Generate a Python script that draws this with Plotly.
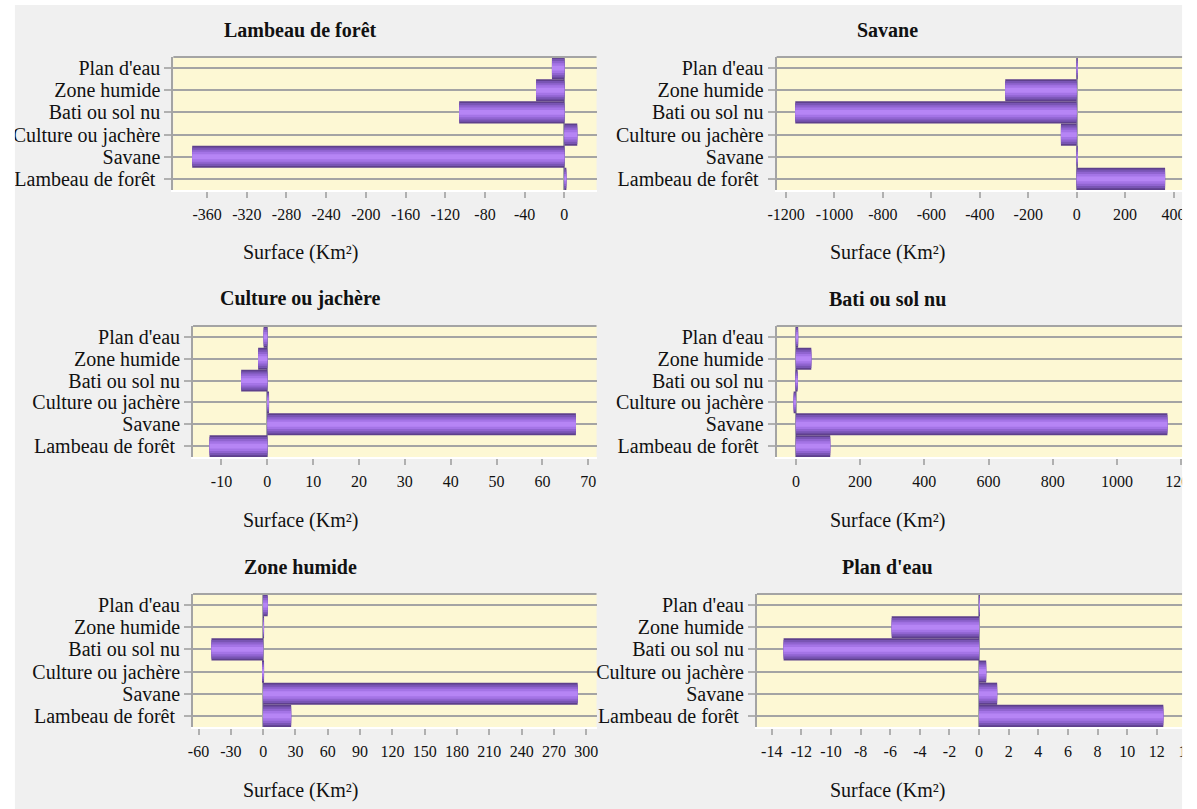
import plotly.graph_objects as go

# Land-cover classes (bottom to top on each chart)
categories = ["Lambeau de forêt", "Savane", "Culture ou jachère",
              "Bati ou sol nu", "Zone humide", "Plan d'eau"]
category_labels = ["Lambeau de forêt\u00a0", "Savane", "Culture ou jachère",
                   "Bati ou sol nu", "Zone humide", "Plan d'eau"]

panel_titles = ["Lambeau de forêt", "Savane", "Culture ou jachère",
                "Bati ou sol nu", "Zone humide", "Plan d'eau"]

# Surface change (Km²) per class, same order as `categories`
lambeau_values = [1.0, -375, 13.0, -106, -28.5, -12.5]
savane_values = [365, 1.0, -65, -1162, -295, 2.0]
culture_values = [-12.6, 67.3, 0.2, -5.7, -2.0, -0.8]
bati_values = [107, 1157, -7, 3, 48, 7]
zone_values = [26, 292, -1.0, -48, 0.8, 4.2]
plan_values = [12.44, 1.22, 0.48, -13.2, -5.9, 0.05]

panel_values = [lambeau_values, savane_values, culture_values,
                bati_values, zone_values, plan_values]

# Axis tick values per chart
ticks_lambeau = list(range(-360, 1, 40))
ticks_savane = list(range(-1200, 401, 200))
ticks_culture = list(range(-10, 71, 10))
ticks_bati = list(range(0, 1201, 200))
ticks_zone = list(range(-60, 301, 30))
ticks_plan = list(range(-14, 15, 2))
panel_ticks = [ticks_lambeau, ticks_savane, ticks_culture,
               ticks_bati, ticks_zone, ticks_plan]

x_ranges = [[-394, 32.4], [-1239, 455.5], [-16.2, 71.8],
            [-60, 1218], [-65.1, 309.5], [-15.0, 14.04]]

W, H = 1197, 809
# plot boxes in pixels: (left, right, top, bottom)
boxes = [(167, 597, 57, 190), (780, 1197, 57, 190),
         (187, 597, 326, 457), (780, 1197, 326, 457),
         (187, 597, 594, 727), (760, 1197, 594, 727)]
col_centers = [296, 893]

# gradient bands of each bar, outer to inner
band_widths = [1.0, 0.84, 0.64, 0.44, 0.22]
band_colors = ["#5e408c", "#7955b4", "#9064d0", "#a474e6", "#b685f5"]

GRID = "#a4a4a4"
FONT = "Liberation Serif, Times New Roman, serif"

fig = go.Figure()
layout = dict(
    width=W, height=H, autosize=False,
    margin=dict(l=0, r=0, t=0, b=0),
    paper_bgcolor="#f0f0f0", plot_bgcolor="#fdf8d4",
    barmode="overlay", showlegend=False,
    font=dict(family=FONT, color="#111111"),
)
annotations = []
shapes = []

for i, vals in enumerate(panel_values):
    n = "" if i == 0 else str(i + 1)
    xa, ya = "x" + n, "y" + n
    for w, c in zip(band_widths, band_colors):
        fig.add_trace(go.Bar(
            x=vals, y=categories, orientation="h", width=w,
            marker=dict(color=c, line=dict(width=0)),
            xaxis=xa, yaxis=ya, hoverinfo="skip",
        ))
    left, right, top, bottom = boxes[i]
    ticks = panel_ticks[i]
    layout["xaxis" + n] = dict(
        domain=[left / W, right / W], anchor=ya, range=x_ranges[i],
        tickmode="array", tickvals=ticks, ticktext=[str(t) for t in ticks],
        showgrid=False, zeroline=True, zerolinecolor=GRID, zerolinewidth=2,
        showline=True, linecolor="#ffffff", linewidth=2,
        ticks="outside", ticklen=6, tickwidth=1.5, tickcolor="#b0b0b0",
        ticklabelstandoff=3, ticklabeloverflow="allow",
        tickfont=dict(family=FONT, size=16, color="#111111"),
        fixedrange=True,
    )
    layout["yaxis" + n] = dict(
        domain=[1 - bottom / H, 1 - top / H], anchor=xa,
        type="category", categoryorder="array", categoryarray=categories,
        range=[-0.5, 5.5],
        tickmode="array", tickvals=categories, ticktext=category_labels,
        showgrid=True, gridcolor=GRID, gridwidth=2,
        showline=True, linecolor=GRID, linewidth=2,
        ticks="outside", ticklen=7, tickwidth=1.5, tickcolor="#b0b0b0",
        tickfont=dict(family=FONT, size=20, color="#111111"),
        fixedrange=True,
    )
    # top border of the plot area
    shapes.append(dict(type="line", xref=xa + " domain", yref=ya + " domain",
                       x0=0, x1=1, y0=1, y1=1, layer="above",
                       line=dict(color=GRID, width=2)))
    cx = col_centers[i % 2] / W
    annotations.append(dict(
        text="<b>" + panel_titles[i] + "</b>", xref="paper", yref="paper",
        x=cx, y=1 - (top - 27) / H, xanchor="center", yanchor="middle",
        showarrow=False, font=dict(family=FONT, size=20, color="#111111")))
    annotations.append(dict(
        text="Surface (Km²)", xref="paper", yref="paper",
        x=cx, y=1 - (bottom + 63) / H, xanchor="center", yanchor="middle",
        showarrow=False, font=dict(family=FONT, size=20, color="#111111")))

# white frame around the grey panel
shapes += [
    dict(type="rect", xref="paper", yref="paper", x0=0, x1=1,
         y0=1 - 5 / H, y1=1.01, layer="above",
         fillcolor="#ffffff", line=dict(width=0)),
    dict(type="rect", xref="paper", yref="paper", x0=-0.01, x1=6 / W,
         y0=0, y1=1, layer="above", fillcolor="#ffffff", line=dict(width=0)),
    dict(type="rect", xref="paper", yref="paper", x0=1192 / W, x1=1.01,
         y0=0, y1=1, layer="above", fillcolor="#ffffff", line=dict(width=0)),
]

layout["annotations"] = annotations
layout["shapes"] = shapes
fig.update_layout(**layout)
fig.write_html("out.html", config={"displayModeBar": False})
